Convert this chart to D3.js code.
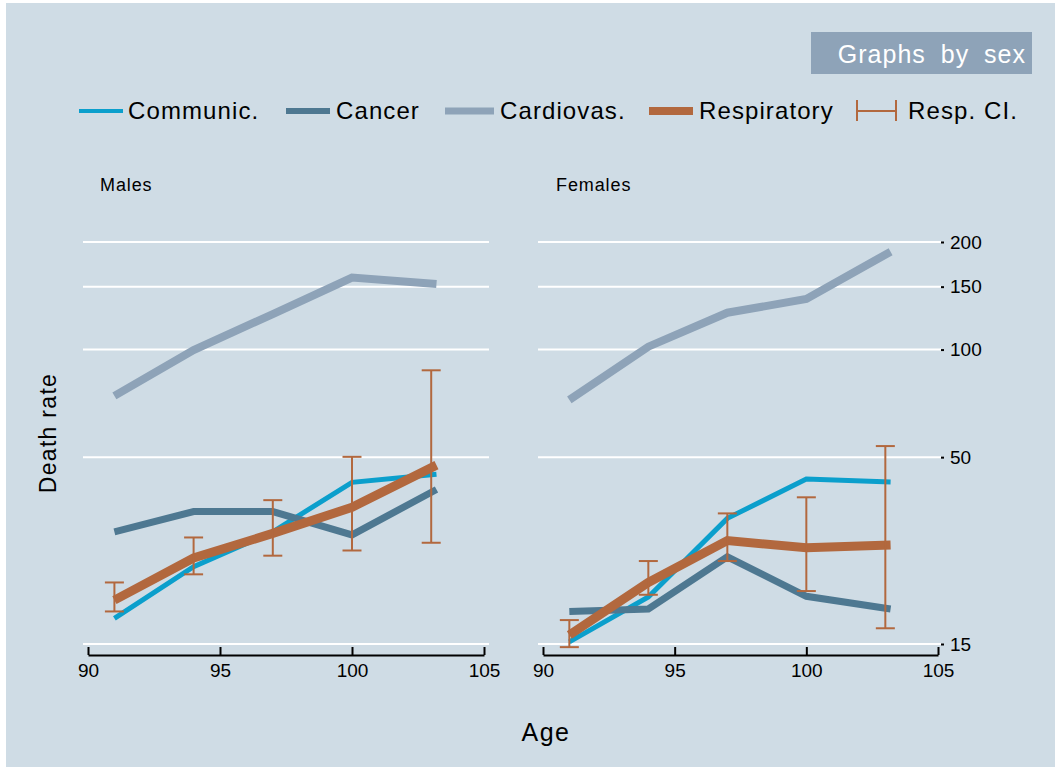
<!DOCTYPE html>
<html>
<head>
<meta charset="utf-8">
<script src="https://cdn.jsdelivr.net/npm/d3@7"></script>
<style>
  html, body { margin: 0; padding: 0; background: #ffffff; }
  svg { display: block; }
  text { font-family: "Liberation Sans", Arial, Helvetica, sans-serif; fill: #000; }
</style>
</head>
<body>
<svg id="chart" width="1055" height="767"></svg>
<script>
// Ages at which the rates are measured (last group plotted at its mean age)
const ages = [91, 94, 97, 100, 103];
const lineAges = [91, 94, 97, 100, 103.2];

// Males: death rates per cause
const communicM = [17.7, 24.7, 30.9, 42.5, 44.8];
const cancerM   = [30.9, 35.2, 35.2, 30.3, 40.6];
const cardioM   = [74.2, 99.7, 125.7, 159, 152.6];
const respM     = [19.9, 26.1, 30.6, 36.2, 47.5];
const respLoM   = [18.5, 23.5, 26.5, 27.4, 28.8];
const respHiM   = [22.3, 29.8, 37.9, 50.1, 87.5];

// Females: death rates per cause
const communicF = [15.2, 20.3, 33.7, 43.4, 42.6];
const cancerF   = [18.5, 18.8, 26.3, 20.4, 18.8];
const cardioF   = [72.3, 101.9, 126.8, 138.5, 187.9];
const respF     = [15.9, 22.3, 29.2, 27.9, 28.4];
const respLoF   = [14.7, 20.6, 25.6, 21.1, 16.6];
const respHiF   = [17.5, 25.6, 34.8, 38.6, 53.7];

// Axis ticks
const xTicks = [90, 95, 100, 105];
const yTicks = [15, 50, 100, 150, 200];

const panelTitles = ["Males", "Females"];
const legendLabels = ["Communic.", "Cancer", "Cardiovas.", "Respiratory", "Resp. CI."];

const colors = {
  communic: "#0b9fcc",
  cancer: "#4e7891",
  cardio: "#8ea3b8",
  resp: "#b2683e",
  bg: "#cfdce5",
  box: "#8ea3b8"
};
const widths = { communic: 5, cancer: 7, cardio: 8, resp: 9 };

const panels = [
  { title: panelTitles[0], communic: communicM, cancer: cancerM, cardio: cardioM, resp: respM, lo: respLoM, hi: respHiM, range: [88, 484], titleX: 100 },
  { title: panelTitles[1], communic: communicF, cancer: cancerF, cardio: cardioF, resp: respF, lo: respLoF, hi: respHiF, range: [543, 938], titleX: 556 }
];

const svg = d3.select("#chart");

// Background
svg.append("rect").attr("x", 6).attr("y", 3).attr("width", 1049).attr("height", 764).attr("fill", colors.bg);

// Shared log y scale
const y = d3.scaleLog().domain([15, 200]).range([644, 242]);

panels.forEach((p, i) => {
  const x = d3.scaleLinear().domain([90, 105]).range(p.range);
  const g = svg.append("g");
  const gx0 = p.range[0] - 5, gx1 = p.range[1] + (i === 1 ? 3 : 5);

  // horizontal grid
  g.selectAll("line.grid").data(yTicks).join("line")
    .attr("class", "grid")
    .attr("x1", gx0).attr("x2", gx1)
    .attr("y1", d => y(d)).attr("y2", d => y(d))
    .attr("stroke", "#ffffff").attr("stroke-width", 2);

  // panel title
  g.append("text").attr("x", p.titleX).attr("y", 191).attr("font-size", 18).attr("letter-spacing", 0.9).text(p.title);

  // x axis
  const xAxis = d3.axisBottom(x).tickValues(xTicks).tickSizeInner(-8).tickSizeOuter(0).tickPadding(9).tickFormat(d3.format("d"));
  const ax = g.append("g").attr("transform", "translate(0,655)").call(xAxis);
  ax.select(".domain").attr("stroke", "#000").attr("stroke-width", 2);
  ax.selectAll(".tick line").attr("stroke", "#000").attr("stroke-width", 2);
  ax.selectAll(".tick text").attr("font-size", 19).attr("font-family", "Liberation Sans, Arial, sans-serif").attr("fill", "#000");

  const line = d3.line().x((d, k) => x(lineAges[k])).y(d => y(d));

  const series = [
    ["communic", p.communic],
    ["cancer", p.cancer],
    ["cardio", p.cardio],
    ["resp", p.resp]
  ];
  series.forEach(([key, vals]) => {
    g.append("path").datum(vals)
      .attr("d", line)
      .attr("fill", "none")
      .attr("stroke", colors[key])
      .attr("stroke-width", widths[key])
      .attr("stroke-linejoin", "miter")
      .attr("stroke-linecap", "butt");
  });

  // respiratory confidence intervals
  const ci = g.append("g").attr("stroke", colors.resp).attr("stroke-width", 2).attr("fill", "none");
  ages.forEach((a, k) => {
    const cx = x(a);
    ci.append("line").attr("x1", cx).attr("x2", cx).attr("y1", y(p.lo[k])).attr("y2", y(p.hi[k]));
    ci.append("line").attr("x1", cx - 9.5).attr("x2", cx + 9.5).attr("y1", y(p.lo[k])).attr("y2", y(p.lo[k]));
    ci.append("line").attr("x1", cx - 9.5).attr("x2", cx + 9.5).attr("y1", y(p.hi[k])).attr("y2", y(p.hi[k]));
  });

  // y axis on the right of the second panel
  if (i === 1) {
    const yAxis = d3.axisRight(y).tickValues(yTicks).tickSize(3).tickPadding(6).tickFormat(d3.format("d"));
    const ay = g.append("g").attr("transform", `translate(${gx1},0)`).call(yAxis);
    ay.select(".domain").remove();
    ay.selectAll(".tick line").attr("stroke", "#000").attr("stroke-width", 2);
    ay.selectAll(".tick text").attr("font-size", 19).attr("font-family", "Liberation Sans, Arial, sans-serif").attr("fill", "#000");
  }
});

// Axis titles
svg.append("text").attr("x", 546).attr("y", 741).attr("text-anchor", "middle").attr("font-size", 25).attr("letter-spacing", 1.5).text("Age");
svg.append("text").attr("transform", "translate(56,433) rotate(-90)").attr("text-anchor", "middle").attr("font-size", 23).attr("letter-spacing", 1.3).text("Death rate");

// "Graphs by sex" box
svg.append("rect").attr("x", 811).attr("y", 32).attr("width", 221).attr("height", 42).attr("fill", colors.box);
svg.append("text").attr("x", 1026).attr("y", 63).attr("text-anchor", "end").attr("font-size", 25)
  .attr("fill", "#ffffff").style("fill", "#ffffff").attr("letter-spacing", 1).attr("word-spacing", 7).text("Graphs by sex");

// Legend
const legendItems = [
  { label: legendLabels[0], key: "communic", x0: 79, x1: 123, tx: 128 },
  { label: legendLabels[1], key: "cancer", x0: 286, x1: 330, tx: 336 },
  { label: legendLabels[2], key: "cardio", x0: 445, x1: 494, tx: 500 },
  { label: legendLabels[3], key: "resp", x0: 649, x1: 693, tx: 699 },
  { label: legendLabels[4], key: "ci", x0: 857, x1: 896, tx: 908 }
];
const lg = svg.append("g");
legendItems.forEach(it => {
  if (it.key === "ci") {
    const c = lg.append("g").attr("stroke", colors.resp).attr("stroke-width", 2);
    c.append("line").attr("x1", it.x0).attr("x2", it.x1).attr("y1", 111).attr("y2", 111);
    c.append("line").attr("x1", it.x0).attr("x2", it.x0).attr("y1", 100).attr("y2", 121);
    c.append("line").attr("x1", it.x1).attr("x2", it.x1).attr("y1", 100).attr("y2", 121);
  } else {
    lg.append("line").attr("x1", it.x0).attr("x2", it.x1).attr("y1", 111).attr("y2", 111)
      .attr("stroke", colors[it.key]).attr("stroke-width", widths[it.key] - 1);
  }
  lg.append("text").attr("x", it.tx).attr("y", 119).attr("font-size", 24).attr("letter-spacing", 1.1).text(it.label);
});
</script>
</body>
</html>
